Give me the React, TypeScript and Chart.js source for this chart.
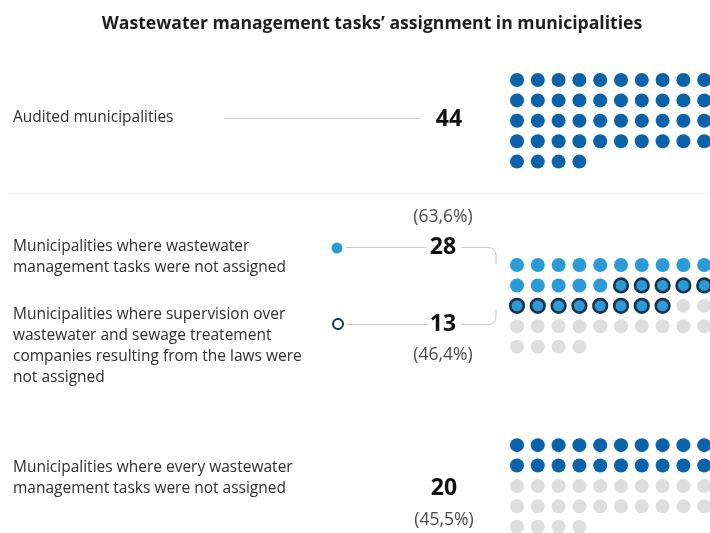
import React, { useEffect, useRef } from "react";
import { Chart, registerables } from "chart.js";

Chart.register(...registerables);

// ---- data ----
const title = "Wastewater management tasks’ assignment in municipalities";
const groupTotals = [44, 44, 44];
const groupFilled = [44, 28, 20];
const groupOutlined = [0, 13, 0];
const groupValues = ["44", "28", "20"];
const groupPercents = ["", "(63,6%)", "(45,5%)"];
const subValue = "13";
const subPercent = "(46,4%)";
const labelAudited = ["Audited municipalities"];
const labelNotAssigned = ["Municipalities where wastewater", "management tasks were not assigned"];
const labelSupervision = [
  "Municipalities where supervision over",
  "wastewater and sewage treatement",
  "companies resulting from the laws were",
  "not assigned",
];
const labelEvery = ["Municipalities where every wastewater", "management tasks were not assigned"];

// ---- layout / style ----
const COLS = 10;
const groupRowOffset = [0, 9.07, 17.9];
const DARK = "#0a62ab";
const LIGHT = "#2a9bd7";
const GRAY = "#dedede";
const RING = "#17324d";
const FONT = "'Open Sans', sans-serif";

function buildDatasets() {
  const dark: { x: number; y: number }[] = [];
  const light: { x: number; y: number }[] = [];
  const ring: { x: number; y: number }[] = [];
  const gray: { x: number; y: number }[] = [];
  groupTotals.forEach((total, g) => {
    const plain = groupFilled[g] - groupOutlined[g];
    for (let i = 0; i < total; i++) {
      const p = { x: i % COLS, y: Math.floor(i / COLS) + groupRowOffset[g] };
      if (i < plain) (g === 1 ? light : dark).push(p);
      else if (i < groupFilled[g]) ring.push(p);
      else gray.push(p);
    }
  });
  return [
    { data: dark, backgroundColor: DARK, pointRadius: 7, pointBorderWidth: 0, borderColor: DARK },
    { data: light, backgroundColor: LIGHT, pointRadius: 7, pointBorderWidth: 0, borderColor: LIGHT },
    { data: ring, backgroundColor: LIGHT, pointRadius: 6.8, pointBorderWidth: 2.6, borderColor: RING },
    { data: gray, backgroundColor: GRAY, pointRadius: 7, pointBorderWidth: 0, borderColor: GRAY },
  ];
}

const textPlugin = {
  id: "infoText",
  afterDraw(chart: any) {
    const ctx = chart.ctx as CanvasRenderingContext2D;
    ctx.save();
    ctx.textBaseline = "middle";

    // title
    ctx.fillStyle = "#1e1e1e";
    ctx.font = `bold 17.6px ${FONT}`;
    ctx.textAlign = "center";
    ctx.fillText(title, 372, 24);

    // labels
    const drawLines = (lines: string[], y0: number) => {
      ctx.font = `15.5px ${FONT}`;
      ctx.fillStyle = "#2e2e2e";
      ctx.textAlign = "left";
      lines.forEach((l, i) => ctx.fillText(l, 13, y0 + i * 21));
    };
    drawLines(labelAudited, 118);
    drawLines(labelNotAssigned, 247);
    drawLines(labelSupervision, 315);
    drawLines(labelEvery, 468);

    // connectors
    ctx.strokeStyle = "#c8c8c8";
    ctx.lineWidth = 1;
    const hline = (x1: number, x2: number, y: number) => {
      ctx.beginPath();
      ctx.moveTo(x1, y + 0.5);
      ctx.lineTo(x2, y + 0.5);
      ctx.stroke();
    };
    hline(224, 420, 118);
    hline(346, 426, 247);
    hline(346, 428, 324);
    // bracket pieces
    ctx.beginPath();
    ctx.moveTo(462, 247.5);
    ctx.lineTo(488, 247.5);
    ctx.quadraticCurveTo(496, 247.5, 496, 256);
    ctx.lineTo(496, 264);
    ctx.stroke();
    ctx.beginPath();
    ctx.moveTo(462, 324.5);
    ctx.lineTo(488, 324.5);
    ctx.quadraticCurveTo(496, 324.5, 496, 316);
    ctx.lineTo(496, 309);
    ctx.stroke();

    // separator
    ctx.strokeStyle = "#e6e6e6";
    ctx.setLineDash([2, 2]);
    hline(10, 710, 193);
    ctx.setLineDash([]);

    // markers
    ctx.fillStyle = LIGHT;
    ctx.beginPath();
    ctx.arc(337, 248, 5.5, 0, Math.PI * 2);
    ctx.fill();
    ctx.strokeStyle = RING;
    ctx.lineWidth = 2;
    ctx.fillStyle = "#fff";
    ctx.beginPath();
    ctx.arc(338, 324, 5, 0, Math.PI * 2);
    ctx.fill();
    ctx.stroke();

    // numbers
    ctx.textAlign = "center";
    ctx.fillStyle = "#111";
    ctx.font = `bold 23px ${FONT}`;
    ctx.fillText(groupValues[0], 449, 119);
    ctx.fillText(groupValues[1], 443, 247);
    ctx.fillText(subValue, 443, 324);
    ctx.fillText(groupValues[2], 444, 488);

    ctx.font = `17.5px ${FONT}`;
    ctx.fillStyle = "#4a4a4a";
    ctx.fillText(groupPercents[1], 443, 217);
    ctx.fillText(subPercent, 443, 355);
    ctx.fillText(groupPercents[2], 444, 520);

    ctx.restore();
  },
};

export default function App() {
  const ref = useRef<HTMLCanvasElement>(null);
  useEffect(() => {
    if (!ref.current) return;
    const chart = new Chart(ref.current, {
      type: "scatter",
      data: { datasets: buildDatasets() as any },
      options: {
        animation: false,
        responsive: true,
        maintainAspectRatio: false,
        layout: { padding: 0, autoPadding: false },
        events: [],
        plugins: { legend: { display: false }, tooltip: { enabled: false }, title: { display: false } },
        scales: {
          x: { type: "linear", display: false, min: -517 / 20.8, max: 193 / 20.8 },
          y: { type: "linear", display: false, min: -80 / 20.4, max: 453 / 20.4, reverse: true },
        },
      },
      plugins: [textPlugin],
    });
    return () => chart.destroy();
  }, []);
  return (
    <div style={{ position: "absolute", left: 0, top: 0, width: 710, height: 533, background: "#fff" }}>
      <canvas ref={ref} />
    </div>
  );
}
